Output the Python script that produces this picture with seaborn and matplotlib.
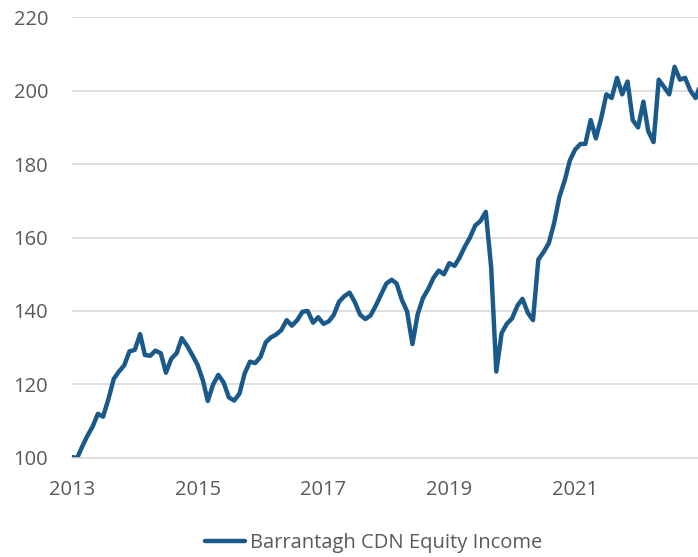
import numpy as np
import pandas as pd
import matplotlib
matplotlib.use("Agg")
import matplotlib.pyplot as plt
import matplotlib.dates as mdates
import seaborn as sns

# Monthly index values (Jan 2013 onwards)
series_name = "Barrantagh CDN Equity Income"
start_month = "2013-01-01"
values = [
    100.2, 100.0, 103.0, 106.0, 108.5, 112.0, 111.2, 116.0, 121.5, 123.5, 125.2, 129.0,   # 2013
    129.4, 133.7, 128.0, 127.8, 129.2, 128.5, 123.2, 127.0, 128.5, 132.6, 130.5, 128.0,   # 2014
    125.3, 121.0, 115.5, 120.0, 122.6, 120.5, 116.5, 115.6, 117.5, 123.0, 126.2, 125.8,   # 2015
    127.5, 131.5, 132.8, 133.6, 134.8, 137.5, 136.0, 137.5, 139.8, 140.0, 136.8, 138.3,   # 2016
    136.5, 137.2, 138.9, 142.5, 144.0, 145.0, 142.5, 139.0, 137.8, 138.8, 141.5, 144.5,   # 2017
    147.5, 148.5, 147.5, 143.0, 139.9, 131.0, 139.0, 143.5, 146.0, 149.0, 151.0, 150.0,   # 2018
    153.0, 152.3, 154.5, 157.5, 160.0, 163.3, 164.5, 167.0, 152.0, 123.5, 134.0, 136.5,   # 2019
    138.0, 141.5, 143.3, 139.5, 137.5, 154.0, 156.0, 158.5, 164.0, 171.0, 175.5, 181.0,   # 2020
    184.0, 185.5, 185.5, 192.0, 187.0, 192.5, 199.0, 198.0, 203.5, 199.0, 202.5, 192.0,   # 2021
    190.0, 197.0, 189.0, 186.0, 203.0, 201.0, 199.0, 206.5, 203.0, 203.5, 200.0, 198.0,   # 2022
    202.0,
]
y_ticks = [100, 120, 140, 160, 180, 200, 220]
x_tick_years = [2013, 2015, 2017, 2019, 2021]

df = pd.DataFrame({
    "date": pd.date_range(start_month, periods=len(values), freq="MS"),
    "value": values,
})

sns.set_style("white")
plt.rcParams["font.family"] = ["Open Sans", "DejaVu Sans"]

fig = plt.figure(figsize=(6.98, 5.57), dpi=100)
ax = fig.add_axes([0.103, 0.178, 0.897, 0.791])

sns.lineplot(data=df, x="date", y="value", ax=ax, color="#1a5a8a", linewidth=3.2,
             label=series_name, solid_joinstyle="round", solid_capstyle="round")

ax.set_ylim(100, 220)
ax.set_yticks(y_ticks)
ax.set_xlim(pd.Timestamp("2013-01-01"), pd.Timestamp("2022-12-15"))
ax.set_xticks([pd.Timestamp(f"{y}-01-01") for y in x_tick_years])
ax.xaxis.set_major_formatter(mdates.DateFormatter("%Y"))

ax.grid(axis="y", color="#d9d9d9", linewidth=1.2)
ax.set_axisbelow(True)
for side in ["left", "top", "right"]:
    ax.spines[side].set_visible(False)
ax.spines["bottom"].set_color("#d9d9d9")
ax.spines["bottom"].set_linewidth(1.2)

ax.tick_params(axis="y", length=0, pad=17, labelsize=14.5, labelcolor="#595959")
ax.tick_params(axis="x", length=5, width=1.2, color="#d9d9d9", pad=11,
               labelsize=14.5, labelcolor="#595959")
ax.set_xlabel("")
ax.set_ylabel("")

leg = ax.legend(loc="center", bbox_to_anchor=(0.482, -0.193), frameon=False,
                fontsize=14.5, handlelength=2.0, handletextpad=0.25)
for t in leg.get_texts():
    t.set_color("#595959")

fig.savefig("out.png", dpi=100)
